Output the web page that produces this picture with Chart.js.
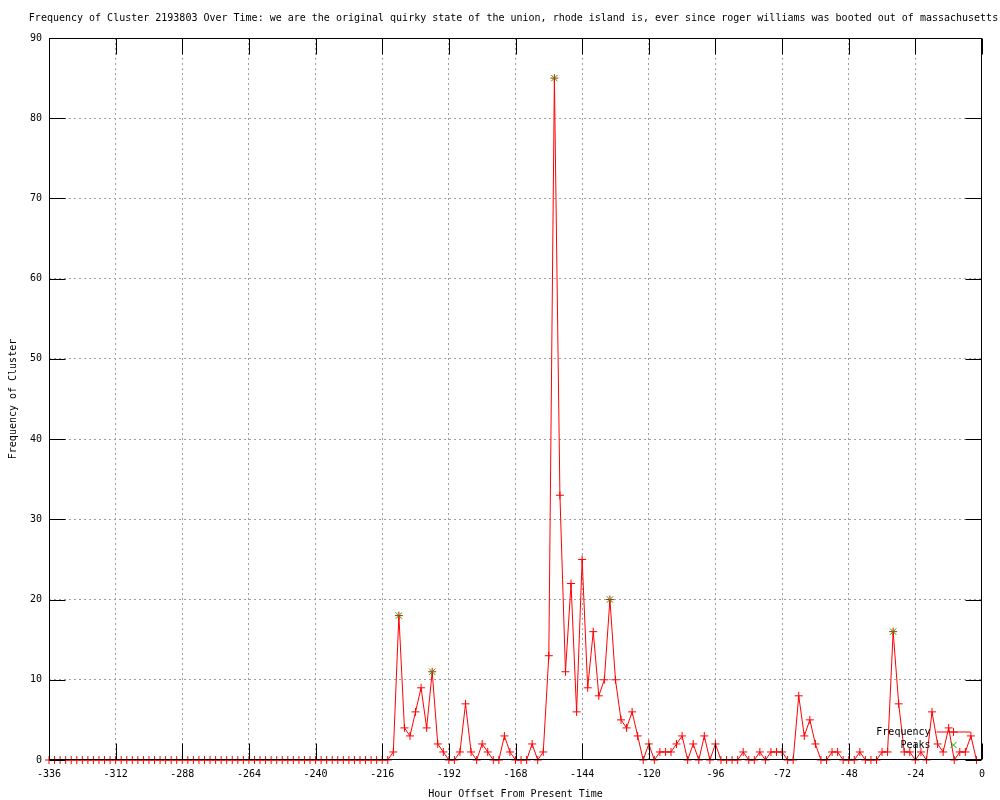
<!DOCTYPE html>
<html>
<head>
<meta charset="utf-8">
<title>Frequency of Cluster 2193803 Over Time</title>
<script src="https://cdn.jsdelivr.net/npm/chart.js@4/dist/chart.umd.min.js"></script>
<style>
    html, body { margin: 0; padding: 0; background: #fff; }
    canvas { display: block; }
</style>
</head>
<body>
<canvas id="chart" width="1000" height="800"></canvas>
<script>
// Buckets are two hours wide, from two weeks ago up to the last bucket before now.
START_HOUR = -336;
STEP_HOURS = 2;

// Cluster frequency per bucket, oldest first.
FREQUENCY = [
    0, 0, 0, 0, 0, 0, 0, 0, 0, 0,
    0, 0, 0, 0, 0, 0, 0, 0, 0, 0,
    0, 0, 0, 0, 0, 0, 0, 0, 0, 0,
    0, 0, 0, 0, 0, 0, 0, 0, 0, 0,
    0, 0, 0, 0, 0, 0, 0, 0, 0, 0,
    0, 0, 0, 0, 0, 0, 0, 0, 0, 0,
    0, 0,
    1, 18, 4, 3, 6, 9, 4, 11, 2, 1,
    0, 0, 1, 7, 1, 0, 2, 1, 0, 0,
    3, 1, 0, 0, 0, 2, 0, 1, 13, 85,
    33, 11, 22, 6, 25, 9, 16, 8, 10, 20,
    10, 5, 4, 6, 3, 0, 2, 0, 1, 1,
    1, 2, 3, 0, 2, 0, 3, 0, 2, 0,
    0, 0, 0, 1, 0, 0, 1, 0, 1, 1,
    1, 0, 0, 8, 3, 5, 2, 0, 0, 1,
    1, 0, 0, 0, 1, 0, 0, 0, 1, 1,
    16, 7, 1, 1, 0, 1, 0, 6, 2, 1,
    4, 0, 1, 1, 3, 0,
];

// Buckets flagged as peaks.
PEAK_HOURS = [-210, -198, -154, -134, -32];
PEAK_VALUES = [18, 11, 85, 20, 16];

X_TICKS = [-336, -312, -288, -264, -240, -216, -192, -168, -144, -120, -96, -72, -48, -24, 0];
Y_TICKS = [0, 10, 20, 30, 40, 50, 60, 70, 80, 90];

TITLE = 'Frequency of Cluster 2193803 Over Time: we are the original quirky state of the union, ' +
    'rhode island is, ever since roger williams was booted out of massachusetts';

FONT = { family: '"DejaVu Sans Mono", monospace', size: 10 };
LINE_COLOR = '#ff0000';
PEAK_COLOR = '#00b000';
GRID_COLOR = '#a0a0a0';
TICK_LENGTH = 16;

function frequencyPoints() {
    return FREQUENCY.map(function(v, i) {
        return { x: START_HOUR + i * STEP_HOURS, y: v };
    });
}

function peakPoints() {
    return PEAK_HOURS.map(function(h, i) {
        return { x: h, y: PEAK_VALUES[i] };
    });
}

// Grid lines that sit on the border are left to the border itself.
function innerGridColor(ctx) {
    let last = ctx.scale.ticks.length - 1;
    return (ctx.index === 0 || ctx.index === last) ? 'rgba(0,0,0,0)' : GRID_COLOR;
}

// Draws the gnuplot style frame: a black box, inward ticks on all four sides, the key
// and the title (which is wider than the plot, so Chart.js would squeeze it).
const gnuplotFrame = {
    id: 'gnuplotFrame',
    afterDatasetsDraw(chart) {
        const ctx = chart.ctx;
        const a = chart.chartArea;
        const xs = chart.scales.x;
        const ys = chart.scales.y;
        const left = Math.round(a.left) + 0.5;
        const right = Math.round(a.right) - 0.5;
        const top = Math.round(a.top) + 0.5;
        const bottom = Math.round(a.bottom) - 0.5;

        ctx.save();
        ctx.strokeStyle = 'black';
        ctx.lineWidth = 1;
        ctx.beginPath();
        X_TICKS.forEach(function(v) {
            let px = Math.round(xs.getPixelForValue(v)) + 0.5;
            ctx.moveTo(px, bottom);
            ctx.lineTo(px, bottom - TICK_LENGTH);
            ctx.moveTo(px, top);
            ctx.lineTo(px, top + TICK_LENGTH);
        });
        Y_TICKS.forEach(function(v) {
            let py = Math.round(ys.getPixelForValue(v)) + 0.5;
            ctx.moveTo(left, py);
            ctx.lineTo(left + TICK_LENGTH, py);
            ctx.moveTo(right, py);
            ctx.lineTo(right - TICK_LENGTH, py);
        });
        ctx.stroke();
        ctx.strokeRect(left, top, right - left, bottom - top);

        ctx.font = '10px ' + FONT.family;
        ctx.fillStyle = 'black';
        ctx.textBaseline = 'middle';
        ctx.textAlign = 'center';
        ctx.fillText(TITLE, (a.left + a.right) / 2 - 2, 18);

        // Key, bottom right inside the plot.
        const textRight = right - 51;
        const sampleLeft = right - 45;
        const sampleRight = right - 11;
        const sampleMid = (sampleLeft + sampleRight) / 2;
        const row1 = bottom - 27.5;
        const row2 = bottom - 14.5;
        ctx.textAlign = 'right';
        ctx.fillText(chart.data.datasets[0].label, textRight, row1);
        ctx.fillText(chart.data.datasets[1].label, textRight, row2);

        ctx.strokeStyle = LINE_COLOR;
        ctx.beginPath();
        ctx.moveTo(sampleLeft, row1);
        ctx.lineTo(sampleRight, row1);
        ctx.moveTo(sampleMid - 4, row1);
        ctx.lineTo(sampleMid + 4, row1);
        ctx.moveTo(sampleMid, row1 - 4);
        ctx.lineTo(sampleMid, row1 + 4);
        ctx.stroke();

        ctx.strokeStyle = PEAK_COLOR;
        ctx.beginPath();
        ctx.moveTo(sampleMid - 3, row2 - 3);
        ctx.lineTo(sampleMid + 3, row2 + 3);
        ctx.moveTo(sampleMid - 3, row2 + 3);
        ctx.lineTo(sampleMid + 3, row2 - 3);
        ctx.stroke();
        ctx.restore();
    }
};

new Chart(document.getElementById('chart').getContext('2d'), {
    type: 'line',
    data: {
        datasets: [{
            label: 'Frequency',
            data: frequencyPoints(),
            borderColor: LINE_COLOR,
            backgroundColor: LINE_COLOR,
            borderWidth: 1,
            pointStyle: 'cross',
            pointRadius: 4,
            pointBorderWidth: 1,
            pointBorderColor: LINE_COLOR,
            tension: 0,
            clip: false,
            order: 1,
        }, {
            label: 'Peaks',
            data: peakPoints(),
            showLine: false,
            borderColor: PEAK_COLOR,
            backgroundColor: PEAK_COLOR,
            pointStyle: 'crossRot',
            pointRadius: 4.5,
            pointBorderWidth: 1,
            clip: false,
            order: 0,
        }]
    },
    options: {
        responsive: false,
        animation: false,
        devicePixelRatio: 1,
        layout: {
            padding: { left: 0, right: 18, top: 38, bottom: 0 },
        },
        scales: {
            x: {
                type: 'linear',
                min: X_TICKS[0],
                max: X_TICKS[X_TICKS.length - 1],
                afterBuildTicks: function(scale) {
                    scale.ticks = X_TICKS.map(function(v) { return { value: v }; });
                },
                afterFit: function(scale) {
                    scale.height = 40;
                },
                ticks: {
                    color: 'black',
                    font: FONT,
                    padding: 8,
                    maxRotation: 0,
                    autoSkip: false,
                    callback: function(v) { return String(v); },
                },
                grid: {
                    color: innerGridColor,
                    lineWidth: 1,
                    drawTicks: false,
                },
                border: { display: false, dash: [2, 3] },
                title: {
                    display: true,
                    text: 'Hour Offset From Present Time',
                    color: 'black',
                    font: FONT,
                    padding: { top: 1, bottom: 0 },
                },
            },
            y: {
                type: 'linear',
                min: Y_TICKS[0],
                max: Y_TICKS[Y_TICKS.length - 1],
                afterBuildTicks: function(scale) {
                    scale.ticks = Y_TICKS.map(function(v) { return { value: v }; });
                },
                afterFit: function(scale) {
                    scale.width = 49;
                },
                ticks: {
                    color: 'black',
                    font: FONT,
                    padding: 7,
                    autoSkip: false,
                    callback: function(v) { return String(v); },
                },
                grid: {
                    color: innerGridColor,
                    lineWidth: 1,
                    drawTicks: false,
                },
                border: { display: false, dash: [2, 3] },
                title: {
                    display: true,
                    text: 'Frequency of Cluster',
                    color: 'black',
                    font: FONT,
                    padding: { top: 7, bottom: 0 },
                },
            },
        },
        plugins: {
            title: { display: false },
            legend: { display: false },
            tooltip: { enabled: false },
        },
    },
    plugins: [gnuplotFrame],
});
</script>
</body>
</html>
